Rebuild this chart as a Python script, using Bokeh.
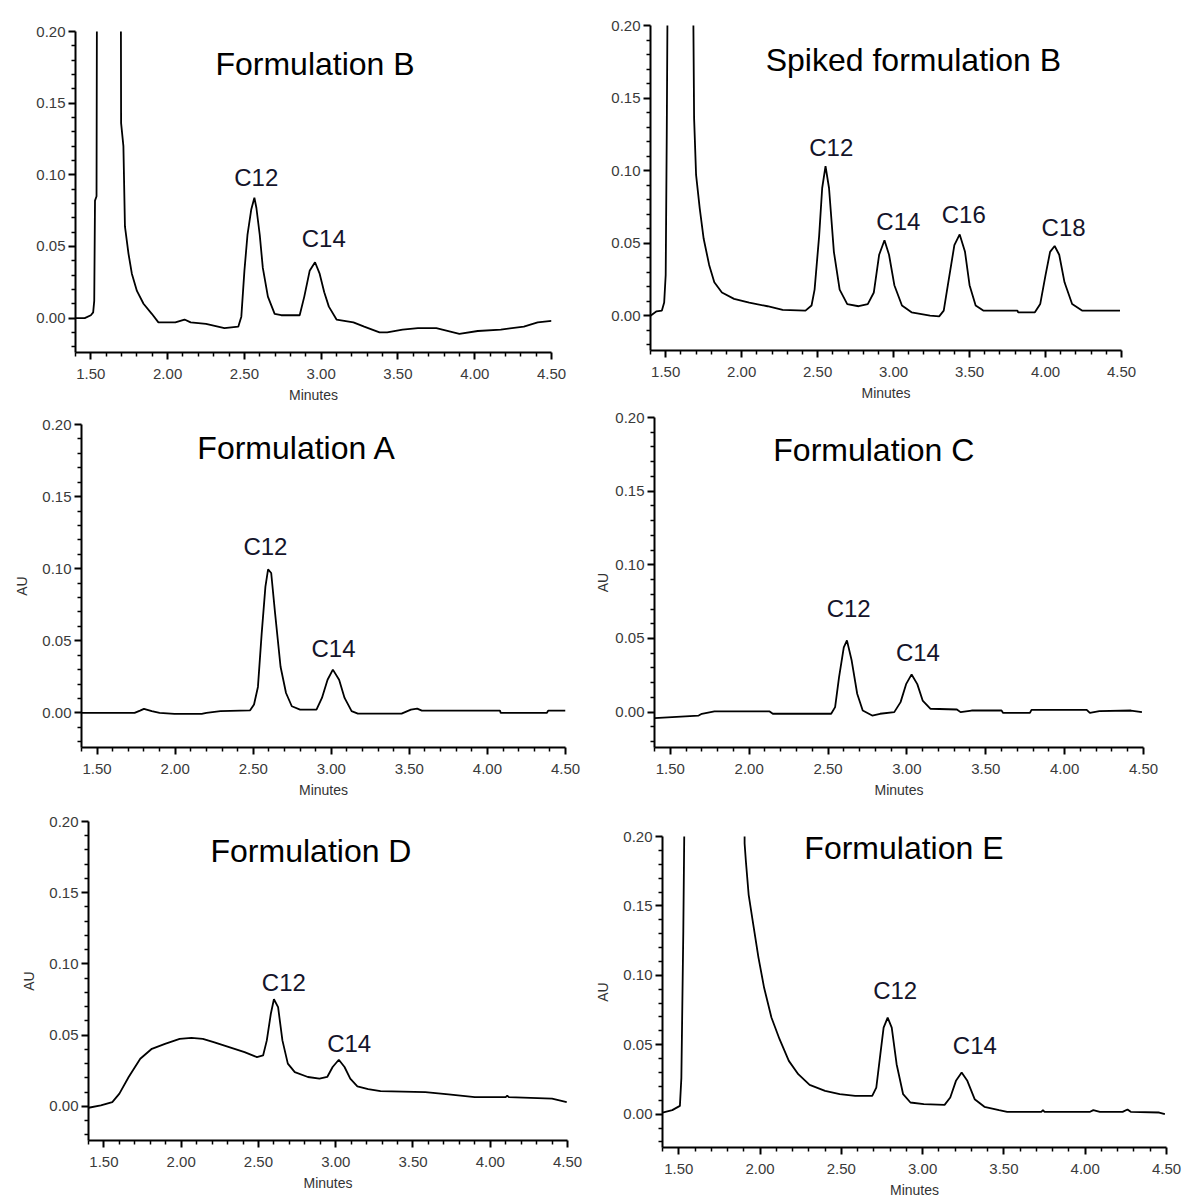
from bokeh.plotting import figure
from bokeh.models import Range1d, FixedTicker, NumeralTickFormatter, ColumnDataSource
from bokeh.layouts import column, row
from bokeh.embed import file_html
from bokeh.resources import INLINE
from bokeh.core.properties import value

# ---------------- axis ticks ----------------
x_major = [1.50, 2.00, 2.50, 3.00, 3.50, 4.00, 4.50]
x_minor = [1.4, 1.6, 1.7, 1.8, 1.9, 2.1, 2.2, 2.3, 2.4, 2.6, 2.7, 2.8, 2.9,
           3.1, 3.2, 3.3, 3.4, 3.6, 3.7, 3.8, 3.9, 4.1, 4.2, 4.3, 4.4]
y_major = [0.00, 0.05, 0.10, 0.15, 0.20]
y_minor = [-0.02, -0.01, 0.01, 0.02, 0.03, 0.04, 0.06, 0.07, 0.08, 0.09,
           0.11, 0.12, 0.13, 0.14, 0.16, 0.17, 0.18, 0.19]

# ---------------- Formulation B ----------------
b_t = [1.40, 1.46, 1.50, 1.515, 1.522, 1.527, 1.537, 1.541, 1.60, 1.694,
       1.697, 1.712, 1.722, 1.745, 1.767, 1.80, 1.843, 1.897, 1.94, 2.05,
       2.11, 2.15, 2.25, 2.37, 2.46, 2.48, 2.50, 2.52, 2.545, 2.565,
       2.578, 2.60, 2.62, 2.653, 2.697, 2.74, 2.86, 2.89, 2.925, 2.96,
       2.99, 3.02, 3.05, 3.10, 3.21, 3.28, 3.38, 3.43, 3.53, 3.63,
       3.75, 3.90, 4.02, 4.17, 4.32, 4.41, 4.50]
b_au = [0.000, 0.000, 0.002, 0.004, 0.012, 0.082, 0.085, 0.30, 0.30, 0.30,
        0.136, 0.120, 0.064, 0.045, 0.031, 0.019, 0.010, 0.003, -0.003, -0.003,
        -0.001, -0.003, -0.004, -0.007, -0.006, 0.001, 0.033, 0.058, 0.076, 0.084,
        0.077, 0.058, 0.035, 0.015, 0.003, 0.002, 0.002, 0.015, 0.033, 0.039,
        0.031, 0.018, 0.008, -0.001, -0.003, -0.006, -0.010, -0.010, -0.008, -0.007,
        -0.007, -0.011, -0.009, -0.008, -0.006, -0.003, -0.002]

# ---------------- Spiked formulation B ----------------
s_t = [1.40, 1.44, 1.475, 1.49, 1.50, 1.507, 1.517, 1.60, 1.675, 1.687,
       1.70, 1.724, 1.75, 1.786, 1.82, 1.87, 1.95, 2.05, 2.17, 2.27,
       2.42, 2.46, 2.48, 2.51, 2.53, 2.552, 2.575, 2.607, 2.645, 2.695,
       2.77, 2.83, 2.87, 2.905, 2.94, 2.97, 3.005, 3.055, 3.118, 3.24,
       3.30, 3.33, 3.36, 3.40, 3.435, 3.47, 3.50, 3.54, 3.59, 3.815,
       3.82, 3.93, 3.965, 4.00, 4.03, 4.06, 4.09, 4.125, 4.175, 4.24,
       4.49]
s_au = [0.000, 0.003, 0.0035, 0.009, 0.028, 0.125, 0.30, 0.30, 0.30, 0.136,
        0.097, 0.074, 0.053, 0.035, 0.023, 0.016, 0.0116, 0.009, 0.0065, 0.004,
        0.0035, 0.007, 0.018, 0.055, 0.088, 0.103, 0.088, 0.044, 0.018, 0.008,
        0.0065, 0.008, 0.016, 0.042, 0.052, 0.042, 0.021, 0.007, 0.0023, 0.0,
        -0.0005, 0.0035, 0.023, 0.0486, 0.056, 0.044, 0.021, 0.007, 0.0035, 0.0035,
        0.0023, 0.0023, 0.008, 0.028, 0.044, 0.048, 0.042, 0.023, 0.008, 0.0035,
        0.0035]

# ---------------- Formulation A ----------------
a_t = [1.40, 1.74, 1.775, 1.80, 1.85, 1.90, 1.995, 2.17, 2.20, 2.29,
       2.48, 2.505, 2.53, 2.554, 2.578, 2.595, 2.615, 2.64, 2.675, 2.71,
       2.747, 2.80, 2.905, 2.94, 2.976, 3.01, 3.05, 3.085, 3.13, 3.17,
       3.45, 3.51, 3.55, 3.58, 4.08, 4.085, 4.38, 4.39, 4.50]
a_au = [0.0, 0.0, 0.0016, 0.0028, 0.0012, 0.0, -0.0007, -0.0007, 0.0, 0.0012,
        0.0018, 0.0058, 0.018, 0.055, 0.0876, 0.0995, 0.097, 0.069, 0.032, 0.0138,
        0.0046, 0.0023, 0.0023, 0.0104, 0.023, 0.030, 0.023, 0.0104, 0.0012, -0.0005,
        -0.0005, 0.0023, 0.003, 0.0016, 0.0016, 0.0, 0.0, 0.0016, 0.0016]

# ---------------- Formulation C ----------------
c_t = [1.40, 1.68, 1.70, 1.78, 2.13, 2.15, 2.52, 2.545, 2.57, 2.60,
       2.62, 2.65, 2.685, 2.72, 2.78, 2.83, 2.92, 2.96, 2.995, 3.03,
       3.066, 3.10, 3.15, 3.317, 3.34, 3.41, 3.60, 3.61, 3.78, 3.79,
       4.14, 4.16, 4.22, 4.42, 4.49]
c_au = [-0.004, -0.0023, -0.0011, 0.0005, 0.0005, -0.0011, -0.0011, 0.0034, 0.0238, 0.044,
        0.0487, 0.035, 0.0125, 0.0011, -0.0023, -0.0011, 0.0, 0.0068, 0.019, 0.0256,
        0.019, 0.0079, 0.0023, 0.0018, 0.0, 0.0011, 0.0011, -0.0005, -0.0005, 0.0016,
        0.0016, -0.0005, 0.0007, 0.0011, 0.0]

# ---------------- Formulation D ----------------
d_t = [1.40, 1.48, 1.554, 1.60, 1.66, 1.735, 1.81, 1.895, 1.99, 2.066,
       2.14, 2.21, 2.31, 2.41, 2.49, 2.53, 2.554, 2.58, 2.60, 2.627,
       2.655, 2.69, 2.735, 2.82, 2.895, 2.945, 2.98, 3.02, 3.057, 3.094,
       3.14, 3.21, 3.29, 3.58, 3.73, 3.90, 4.10, 4.11, 4.12, 4.40,
       4.495]
d_au = [-0.001, 0.0007, 0.003, 0.0089, 0.0206, 0.0334, 0.0404, 0.0439, 0.0474, 0.0481,
        0.0474, 0.0451, 0.0416, 0.0381, 0.0346, 0.0357, 0.0463, 0.065, 0.0752, 0.0696,
        0.0463, 0.030, 0.024, 0.0206, 0.0194, 0.0206, 0.0276, 0.0327, 0.0276, 0.0194,
        0.014, 0.0121, 0.0107, 0.010, 0.0084, 0.0065, 0.0065, 0.0075, 0.0065, 0.0054,
        0.003]

# ---------------- Formulation E ----------------
e_t = [1.40, 1.46, 1.507, 1.516, 1.528, 1.542, 1.70, 1.903, 1.905, 1.913,
       1.93, 1.955, 1.99, 2.025, 2.07, 2.12, 2.177, 2.235, 2.305, 2.40,
       2.49, 2.585, 2.69, 2.715, 2.74, 2.76, 2.785, 2.81, 2.84, 2.88,
       2.925, 3.007, 3.135, 3.17, 3.205, 3.24, 3.275, 3.32, 3.38, 3.47,
       3.52, 3.73, 3.74, 3.75, 4.03, 4.05, 4.09, 4.23, 4.26, 4.28,
       4.455, 4.49]
e_au = [0.0012, 0.0029, 0.006, 0.026, 0.132, 0.30, 0.30, 0.30, 0.195, 0.182,
        0.158, 0.139, 0.113, 0.091, 0.0696, 0.054, 0.0384, 0.0288, 0.0211, 0.0168,
        0.0144, 0.0132, 0.0132, 0.0192, 0.0432, 0.0624, 0.0696, 0.0624, 0.036, 0.0144,
        0.0084, 0.0072, 0.0067, 0.012, 0.024, 0.030, 0.024, 0.0108, 0.0053, 0.0029,
        0.0017, 0.0017, 0.0029, 0.0017, 0.0017, 0.0029, 0.0017, 0.0017, 0.0034, 0.0017,
        0.0012, 0.0]

# ---------------- titles and peak labels ----------------
titles = ["Formulation B", "Spiked formulation B", "Formulation A",
          "Formulation C", "Formulation D", "Formulation E"]
peak_names = [["C12", "C14"], ["C12", "C14", "C16", "C18"], ["C12", "C14"],
              ["C12", "C14"], ["C12", "C14"], ["C12", "C14"]]
ylabels = [None, None, "AU", "AU", "AU", "AU"]

# text anchor positions (data coords) - layout, not data
title_pos = [(2.96, 0.177), (3.13, 0.176), (2.78, 0.184),
             (2.79, 0.178), (2.84, 0.179), (2.885, 0.192)]
peak_pos = [[(2.577, 0.098), (3.017, 0.0556)],
            [(2.59, 0.1156), (3.031, 0.0647), (3.462, 0.0694), (4.119, 0.0606)],
            [(2.578, 0.1152), (3.014, 0.0449)],
            [(2.631, 0.0702), (3.07, 0.0408)],
            [(2.664, 0.0871), (3.087, 0.0439)],
            [(2.831, 0.0888), (3.321, 0.0492)]]

# figure sizes and borders: (width, height, left, right, top, bottom, ylabel standoff)
geom = [(592, 408, 75, 41, 31, 56, 9),
        (592, 408, 58, 63, 25, 58, 9),
        (592, 392, 81, 27, 16, 53, 9),
        (592, 392, 59, 41, 9, 51, 1),
        (592, 402, 88, 25, 21, 62, 9),
        (592, 402, 70, 18, 36, 55, 9)]

series = [(b_t, b_au), (s_t, s_au), (a_t, a_au), (c_t, c_au), (d_t, d_au), (e_t, e_au)]

FONT = "Liberation Sans"


def make_panel(i):
    t, au = series[i]
    assert len(t) == len(au)
    w, h, bl, br, bt, bb, ystand = geom[i]
    p = figure(width=w, height=h, x_range=Range1d(1.40, 4.50), y_range=Range1d(-0.024, 0.20),
               output_backend="svg", toolbar_location=None, title=None,
               min_border_left=bl, min_border_right=br, min_border_top=bt, min_border_bottom=bb)
    p.outline_line_color = None
    p.grid.visible = False
    p.background_fill_color = "white"
    p.border_fill_color = "white"

    p.line(t, au, line_color="black", line_width=1.8)

    for ax in (p.xaxis[0], p.yaxis[0]):
        ax.axis_line_width = 2
        ax.axis_line_color = "black"
        ax.major_tick_in = 0
        ax.major_tick_out = 7
        ax.minor_tick_in = 0
        ax.minor_tick_out = 4
        ax.major_tick_line_width = 2
        ax.minor_tick_line_width = 1.5
        ax.major_tick_line_color = "black"
        ax.minor_tick_line_color = "black"
        ax.major_label_text_font = FONT
        ax.major_label_text_font_size = "15px"
        ax.major_label_text_color = "#3a3a3a"
        ax.formatter = NumeralTickFormatter(format="0.00")
        ax.axis_label_text_font = FONT
        ax.axis_label_text_font_style = "normal"
        ax.axis_label_text_font_size = "14px"
        ax.axis_label_text_color = "#333333"
    p.xaxis.major_label_standoff = 9
    p.xaxis.axis_label_standoff = 5
    p.yaxis.major_label_standoff = 3
    p.yaxis.axis_label_standoff = ystand
    p.xaxis.ticker = FixedTicker(ticks=x_major, minor_ticks=x_minor)
    p.yaxis.ticker = FixedTicker(ticks=y_major, minor_ticks=y_minor)
    p.xaxis.axis_label = "Minutes"
    if ylabels[i]:
        p.yaxis.axis_label = ylabels[i]

    tx, ty = title_pos[i]
    p.text(x=[tx], y=[ty], text=[titles[i]], text_font=value(FONT),
           text_font_size=value("32px"), text_color="black",
           text_align="center", text_baseline="middle")
    src = ColumnDataSource(dict(x=[q[0] for q in peak_pos[i]], y=[q[1] for q in peak_pos[i]],
                                text=peak_names[i]))
    p.text(x="x", y="y", text="text", source=src, text_font=value(FONT),
           text_font_size=value("24px"), text_color="#14142a",
           text_align="center", text_baseline="middle")
    return p


panels = [make_panel(i) for i in range(6)]
# each panel wrapped in its own column so that frames are not aligned across a row
cells = [column(p, spacing=0) for p in panels]
layout = column(row(cells[0], cells[1], spacing=0),
                row(cells[2], cells[3], spacing=0),
                row(cells[4], cells[5], spacing=0), spacing=0)

open("out.html", "w").write(file_html(layout, INLINE))
